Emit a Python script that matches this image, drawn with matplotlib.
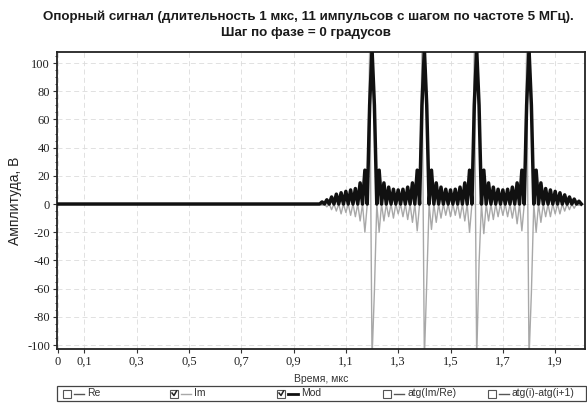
import numpy as np
import matplotlib
matplotlib.use("Agg")
import matplotlib.pyplot as plt
from matplotlib.ticker import FixedLocator, AutoMinorLocator, FuncFormatter
from matplotlib.patches import Rectangle
from matplotlib.lines import Line2D

# ---------------- data ----------------
title = ("Опорный сигнал (длительность 1 мкс, 11 импульсов с шагом по частоте 5 МГц).\n"
         "Шаг по фазе = 0 градусов")
x_label = "Время, мкс"
y_label = "Амплитуда, В"

x_ticks = [0, 0.1, 0.3, 0.5, 0.7, 0.9, 1.1, 1.3, 1.5, 1.7, 1.9]
y_ticks = [-100, -80, -60, -40, -20, 0, 20, 40, 60, 80, 100]

signal_start = 1.0   # мкс
signal_end = 2.0     # мкс

# lobe heights of |S| (Mod) between successive nulls
mod_lobes_a = [1.5, 3, 5, 7, 8, 9, 10, 11, 15, 24]
mod_main_1 = [70, 70]
mod_lobes_b = [24, 15, 12, 10.5, 10, 10.5, 12, 15, 24]
mod_main_2 = [70, 70]
mod_lobes_c = [24, 15, 12, 10.5, 10, 10.5, 12, 15, 24]
mod_main_3 = [70, 70]
mod_lobes_d = [24, 15, 12, 10.5, 10, 10.5, 12, 15, 24]
mod_main_4 = [70, 70]
mod_lobes_e = [24, 15, 11, 10, 9, 8, 6.5, 5, 3.5, 2]

# Im value at each lobe centre
im_lobes_a = [-1, -2, -4, -5, -7, -6, -8, -9, -12, -20]
im_main_1 = [108, -62]
im_lobes_b = [-20, -12, -9, -10, -7, -9, -11, -13, -19]
im_main_2 = [108, -56]
im_lobes_c = [-18, -13, -10, -8, -9, -8, -10, -12, -20]
im_main_3 = [108, -42]
im_lobes_d = [-21, -12, -11, -9, -8, -9, -10, -14, -19]
im_main_4 = [108, -63]
im_lobes_e = [-20, -13, -9, -9, -7, -7, -5, -4, -3, -1]

peak_times = [1.2, 1.4, 1.6, 1.8]
mod_peaks = [110, 110, 110, 110]
im_peaks = [-110, -110, -110, -110]

legend_items = ["Re", "Im", "Mod", "atg(Im/Re)", "atg(i)-atg(i+1)"]
legend_checked = [False, True, True, False, False]

# ---------------- build series ----------------
mod_lobes = (mod_lobes_a + mod_main_1 + mod_lobes_b + mod_main_2 + mod_lobes_c
             + mod_main_3 + mod_lobes_d + mod_main_4 + mod_lobes_e)
im_lobes = (im_lobes_a + im_main_1 + im_lobes_b + im_main_2 + im_lobes_c
            + im_main_3 + im_lobes_d + im_main_4 + im_lobes_e)
n_vert = 2 * len(mod_lobes) + 1
t = np.linspace(signal_start, signal_end, n_vert)
mod = np.zeros(n_vert)
im = np.zeros(n_vert)
mod[1::2] = mod_lobes
im[1::2] = im_lobes
step = t[1] - t[0]
for pt, mp, ip in zip(peak_times, mod_peaks, im_peaks):
    i = int(round((pt - signal_start) / step))
    mod[i] = mp
    im[i] = ip
t = np.concatenate([[0.0], t])
mod = np.concatenate([[0.0], mod])
im = np.concatenate([[0.0], im])

# ---------------- figure ----------------
plt.rcParams['axes.unicode_minus'] = False
W, H = 587, 403
fig = plt.figure(figsize=(W / 100, H / 100), dpi=100)
fig.patch.set_facecolor('white')

ax_l, ax_r, ax_t, ax_b = 57, 585, 52, 349
ax = fig.add_axes([ax_l / W, 1 - ax_b / H, (ax_r - ax_l) / W, (ax_b - ax_t) / H])

ax.plot(t, im, color='#a8a8a8', lw=1.0, zorder=2)
ax.plot(t, mod, color='#111111', lw=2.5, zorder=3, solid_joinstyle='round')

ax.set_xlim(-0.004, 2.014)
ax.set_ylim(-102.8, 107.8)

ax.xaxis.set_major_locator(FixedLocator(x_ticks))
ax.yaxis.set_major_locator(FixedLocator(y_ticks))
ax.yaxis.set_minor_locator(AutoMinorLocator(4))
ax.xaxis.set_major_formatter(FuncFormatter(lambda v, p: ('%g' % v).replace('.', ',')))
ax.yaxis.set_major_formatter(FuncFormatter(lambda v, p: '%d' % v))

serif = 'Liberation Serif'
sans = 'Liberation Sans'
for lab in ax.get_xticklabels() + ax.get_yticklabels():
    lab.set_fontfamily(serif)
    lab.set_fontsize(9)
    lab.set_color('#222222')
ax.tick_params(axis='both', which='major', length=3, width=0.8, color='#333333', pad=2)
ax.tick_params(axis='y', which='minor', length=1.5, width=0.6, color='#333333')

ax.grid(True, which='major', color='#dcdcdc', linestyle=(0, (6, 4)), lw=0.6, zorder=0)
for s in ax.spines.values():
    s.set_linewidth(1.3)
    s.set_color('#222222')

ax.set_ylabel(y_label, fontfamily=sans, fontsize=10, color='#222222', labelpad=4)
fig.text((ax_l + ax_r) / 2 / W, 1 - 379 / H, x_label, ha='center', va='center',
         fontfamily=sans, fontsize=7.5, color='#333333')

title_lines = title.split('\n')
fig.text(308 / W, 1 - 17 / H, title_lines[0], ha='center', va='center', fontfamily=sans,
         fontweight='bold', fontsize=9.6, color='#1a1a1a')
fig.text(306 / W, 1 - 33 / H, title_lines[1], ha='center', va='center', fontfamily=sans,
         fontweight='bold', fontsize=9.6, color='#1a1a1a')

# ---------------- legend panel ----------------
lg_top, lg_bot = 386, 401
fig.patches.append(Rectangle((ax_l / W, 1 - lg_bot / H), (586 - ax_l) / W, (lg_bot - lg_top) / H,
                             transform=fig.transFigure, facecolor='white',
                             edgecolor='#444444', lw=0.9))
item_x = [63, 170, 277, 383, 488]
yc = 1 - 393.5 / H
for x0, name, chk in zip(item_x, legend_items, legend_checked):
    fig.patches.append(Rectangle((x0 / W, yc - 4 / H), 8 / W, 8 / H, transform=fig.transFigure,
                                 facecolor='white', edgecolor='#555555', lw=0.8))
    if chk:
        fig.lines.append(Line2D([(x0 + 2) / W, (x0 + 4) / W, (x0 + 6.5) / W],
                                [yc + 0.5 / H, yc - 2 / H, yc + 2.5 / H],
                                transform=fig.transFigure, color='#222222', lw=1.1))
    if name == 'Mod':
        lc, lw = '#111111', 2.0
    elif name == 'Im':
        lc, lw = '#a8a8a8', 1.0
    else:
        lc, lw = '#555555', 1.0
    fig.lines.append(Line2D([(x0 + 11) / W, (x0 + 21) / W], [yc, yc],
                            transform=fig.transFigure, color=lc, lw=lw))
    fig.text((x0 + 24) / W, yc, name, ha='left', va='center', fontfamily=sans,
             fontsize=7.5, color='#333333')

fig.savefig('out.png', dpi=100, facecolor='white')
